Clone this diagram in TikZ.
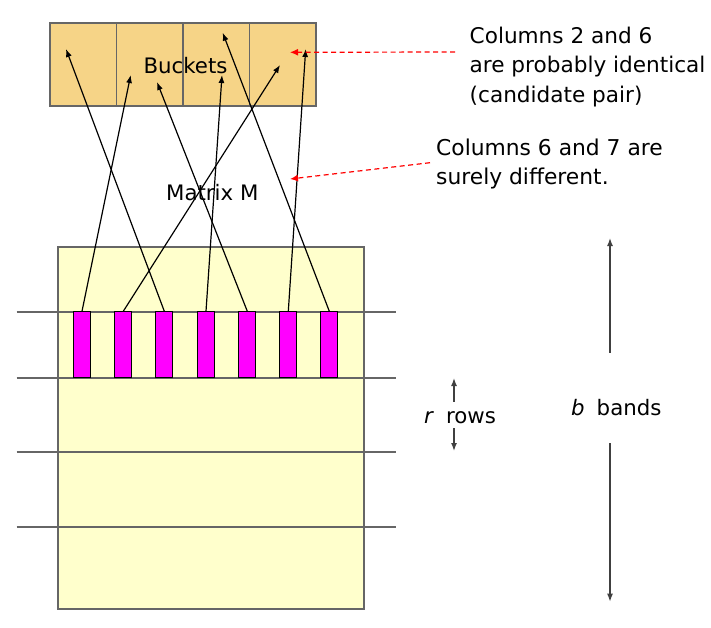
\documentclass[tikz,border=0pt]{standalone}
\usepackage{fontspec}
\setmainfont{DejaVu Sans}
\usetikzlibrary{arrows.meta}
\definecolor{bucketfill}{HTML}{F6D487}
\definecolor{matfill}{HTML}{FFFFCC}
\definecolor{edgegray}{HTML}{666666}
\definecolor{barpink}{HTML}{FF00FF}
\tikzset{
  bucketbox/.style={draw=edgegray, line width=1.6pt, fill=bucketfill, minimum height=83pt, minimum width=66.5pt, inner sep=0pt, anchor=north west},
  matbox/.style={draw=edgegray, line width=2pt, fill=matfill, inner sep=0pt, anchor=north west, minimum width=305.7pt, minimum height=362.3pt},
  bandline/.style={draw=edgegray, line width=1.8pt},
  colbar/.style={draw=black, line width=1.2pt, fill=barpink, minimum width=17pt, minimum height=66pt, inner sep=0pt},
  hasharrow/.style={draw=black, line width=1.2pt, -{Latex[length=8pt,width=6pt]}},
  notearrow/.style={draw=red, line width=1.2pt, dash pattern=on 5pt off 3.5pt, -{Latex[length=8pt,width=7pt]}},
  dimarrow/.style={draw=black!75, line width=1.4pt, -{Latex[length=8pt,width=6pt]}},
  txt/.style={inner sep=0pt, font=\fontsize{21.3}{29.5}\selectfont},
}
\begin{document}
\begin{tikzpicture}[x=1pt,y=-1pt]
\useasboundingbox (0,0) rectangle (711,627);
% buckets
\node[bucketbox] (b1) at (49,22) {};
\node[bucketbox] (b2) at (115.5,22) {};
\node[bucketbox] (b3) at (182,22) {};
\node[bucketbox] (b4) at (248.5,22) {};
\node[txt, anchor=base] (bk) at (185.5,73.3) {Buckets};
% matrix
\node[matbox] (mat) at (57,245.7) {};
\node[txt, anchor=base west] (mm) at (166,200) {Matrix M};
% band lines
\foreach \y/\n in {311.7/l1, 378/l2, 452.3/l3, 526.7/l4} {
  \coordinate (\n a) at (16.7,\y);
  \coordinate (\n b) at (396,\y);
  \draw[bandline] (\n a) -- (\n b);
}
% column bars
\foreach \x [count=\i] in {82,123.3,164.3,206,247.3,288.3,329.3} {
  \node[colbar] (c\i) at (\x,344.85) {};
}
% hash targets
\coordinate (t1) at (130.7,75);
\coordinate (t2) at (280,65);
\coordinate (t3) at (66,49);
\coordinate (t4) at (222,75);
\coordinate (t5) at (157,82);
\coordinate (t6) at (305.7,49);
\coordinate (t7) at (222.7,32.7);
\foreach \i in {1,...,7} {
  \draw[hasharrow] (c\i.north) -- (t\i);
}
% notes (base anchor = last line baseline)
\node[txt, anchor=base west, align=left, font=\fontsize{21.6}{29.5}\selectfont] (n1) at (469.5,102.3) {Columns 2 and 6\\are probably identical\\(candidate pair)};
\node[txt, anchor=base west, align=left, font=\fontsize{21.8}{28.5}\selectfont] (n2) at (436,184.2) {Columns 6 and 7 are\\surely different.};
\coordinate (n1t) at (455,52);
\coordinate (n1h) at (290,52.3);
\coordinate (n2t) at (430,162.7);
\coordinate (n2h) at (290,179);
\draw[notearrow] (n1t) -- (n1h);
\draw[notearrow] (n2t) -- (n2h);
% r rows
\node[txt, anchor=base west] (rr) at (424,423.3) {\textit{r}\hspace{12pt}rows};
\coordinate (ru1) at (454,401.7);
\coordinate (ru2) at (454,378);
\coordinate (rd1) at (454,428);
\coordinate (rd2) at (454,451);
\draw[dimarrow] (ru1) -- (ru2);
\draw[dimarrow] (rd1) -- (rd2);
% b bands
\node[txt, anchor=base west] (bb) at (571,415) {\textit{b}\hspace{12pt}bands};
\coordinate (bu1) at (610,352.7);
\coordinate (bu2) at (610,238);
\coordinate (bd1) at (610,443);
\coordinate (bd2) at (610,601.7);
\draw[dimarrow] (bu1) -- (bu2);
\draw[dimarrow] (bd1) -- (bd2);
\end{tikzpicture}
\end{document}
